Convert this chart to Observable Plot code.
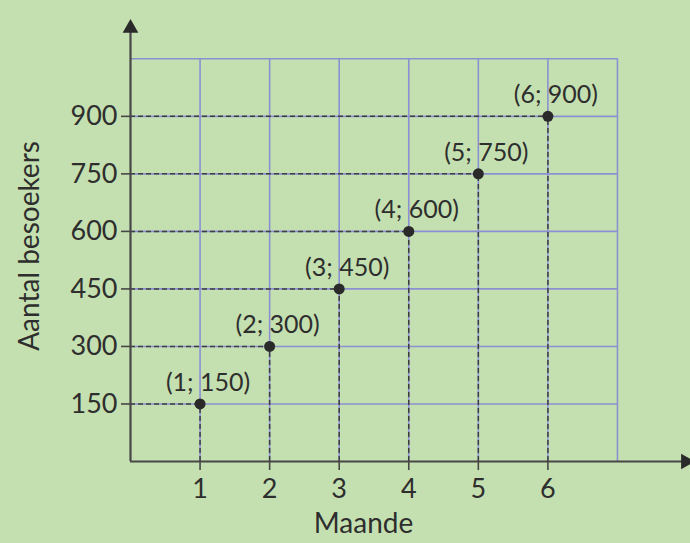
<!DOCTYPE html>
<html>
<head>
<meta charset="utf-8">
<script src="https://cdn.jsdelivr.net/npm/d3@7"></script>
<script src="https://cdn.jsdelivr.net/npm/@observablehq/plot@0.6"></script>
<style>
  html, body { margin: 0; padding: 0; background: #c5e0b0; }
  #chart svg { display: block; }
</style>
</head>
<body>
<div id="chart"></div>
<script>
const months = [1, 2, 3, 4, 5, 6];
const visitors = [150, 300, 450, 600, 750, 900];
const pointLabels = ["(1; 150)", "(2; 300)", "(3; 450)", "(4; 600)", "(5; 750)", "(6; 900)"];
const xTicks = [1, 2, 3, 4, 5, 6];
const yTicks = [150, 300, 450, 600, 750, 900];
const gridX = [1, 2, 3, 4, 5, 6, 7];
const gridY = [150, 300, 450, 600, 750, 900, 1050];
const xLabel = "Maande";
const yLabel = "Aantal besoekers";

const data = months.map((m, i) => ({ m, v: visitors[i], label: pointLabels[i] }));

const font = "Lato, 'Open Sans', sans-serif";
const axisColor = "#474747";
const gridColor = "#8b90d2";
const dashColor = "#3e3e3e";

const chart = Plot.plot({
  width: 690,
  height: 543,
  marginLeft: 130,
  marginRight: 0,
  marginTop: 10,
  marginBottom: 82,
  style: { background: "#c5e0b0", fontFamily: font, color: "#2e2e2e" },
  x: { domain: [0, 8.05] },
  y: { domain: [0, 1176] },
  marks: [
    // grid
    Plot.ruleX(gridX, { y1: 0, y2: 1050, stroke: gridColor, strokeWidth: 1.6 }),
    Plot.ruleY(gridY, { x1: 0, x2: 7, stroke: gridColor, strokeWidth: 1.6 }),
    // dashed guides
    Plot.ruleY(data, { y: "v", x1: 0, x2: "m", stroke: dashColor, strokeWidth: 1.5, strokeDasharray: "5,3" }),
    Plot.ruleX(data, { x: "m", y1: 0, y2: "v", stroke: dashColor, strokeWidth: 1.5, strokeDasharray: "5,3" }),
    // axes lines
    Plot.ruleY([0], { x1: 0, x2: 8.0, stroke: axisColor, strokeWidth: 2.2 }),
    Plot.ruleX([0], { y1: 0, y2: 1130, stroke: axisColor, strokeWidth: 2.2 }),
    // arrow heads
    Plot.dot([0], { x: 0, y: 1130, symbol: "triangle2", r: 7.5, fill: "#2a2a2a" }),
    Plot.dot([0], { x: 7.98, y: 0, symbol: "triangle2", r: 7.5, fill: "#2a2a2a", rotate: 90 }),
    // axes ticks & labels
    Plot.axisX(xTicks, { tickSize: 9, tickPadding: 8, stroke: axisColor, strokeWidth: 1.6, fontSize: 27, label: null, fill: "#2e2e2e" }),
    Plot.axisY(yTicks, { tickSize: 9, tickPadding: 4, stroke: axisColor, strokeWidth: 1.6, fontSize: 27, label: null, fill: "#2e2e2e" }),
    // points
    Plot.dot(data, { x: "m", y: "v", r: 5.5, fill: "#2a2a2a" }),
    Plot.text(data, { x: "m", y: "v", text: "label", dx: 8, dy: -21, fontSize: 25, fill: "#2e2e2e" }),
    // axis titles
    Plot.text([yLabel], { frameAnchor: "left", textAnchor: "middle", dx: -100, dy: 10, rotate: -90, fontSize: 28, fill: "#2e2e2e" }),
    Plot.text([xLabel], { frameAnchor: "bottom", textAnchor: "middle", dx: -47, dy: 71, fontSize: 28, fill: "#2e2e2e" })
  ]
});
document.getElementById("chart").appendChild(chart);
</script>
</body>
</html>
